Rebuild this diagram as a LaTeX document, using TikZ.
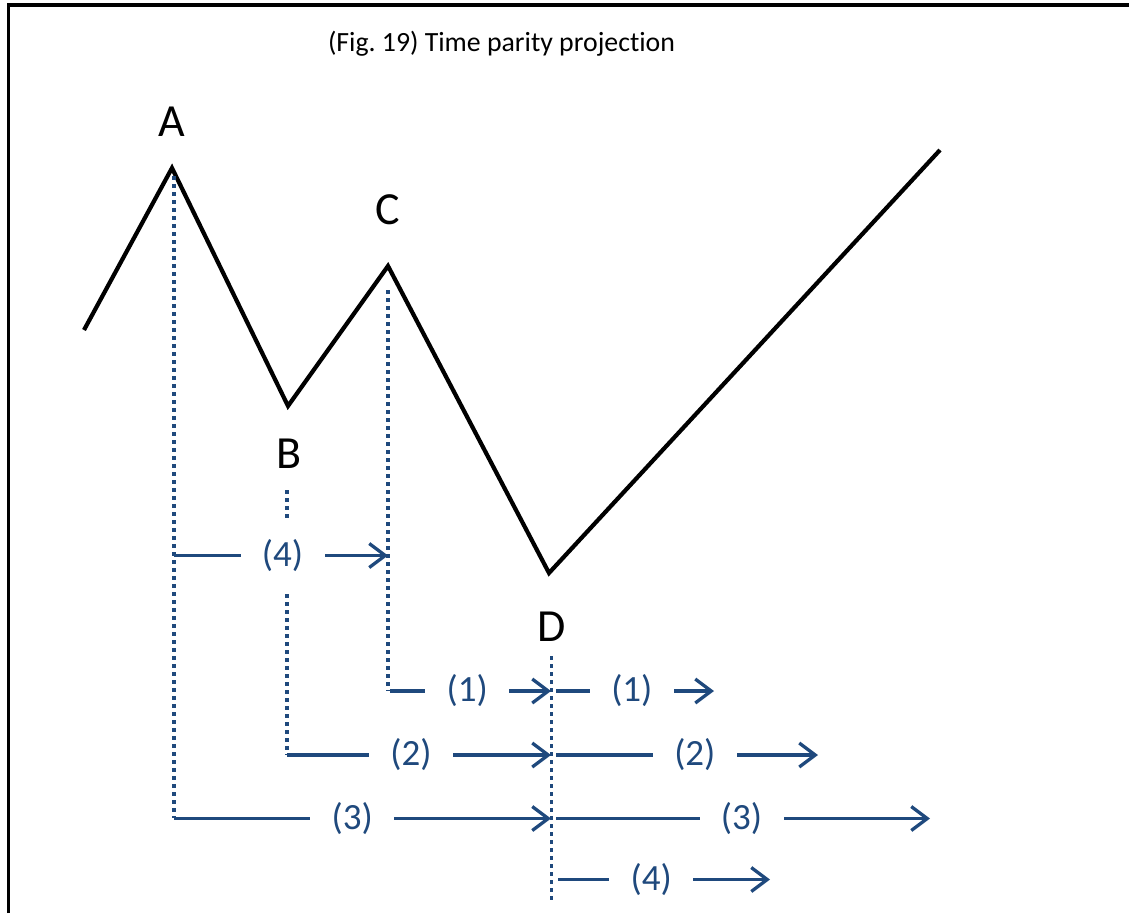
\documentclass[tikz,border=0pt]{standalone}
\usepackage{fontspec}
\setmainfont[Ligatures=NoCommon]{Carlito}
\usetikzlibrary{arrows.meta}
\definecolor{navy}{RGB}{31,73,125}
\frenchspacing
\begin{document}
\begin{tikzpicture}[x=1pt,y=-1pt,
  frame/.style={line width=3.5pt,black},
  zig/.style={line width=4.2pt,black,line join=miter},
  peak/.style={font=\fontsize{46}{50}\selectfont,inner sep=0pt},
  vdot/.style={navy,line width=3.8pt,dash pattern=on 3.6pt off 4.4pt},
  arr/.style={navy,line width=3.3pt,-{Straight Barb[length=16pt,width=24pt,line width=3.3pt]}},
  lbl/.style={fill=white,text=navy,font=\fontsize{37}{40}\selectfont,minimum width=84pt,minimum height=34pt,inner sep=0pt},
  tall/.style={minimum height=68pt}]
\useasboundingbox (0,0) rectangle (1129,913);
% frame
\draw[frame] (8.5,913) -- (8.5,5) -- (1129,5);
% title
\node[anchor=base,font=\fontsize{27.8}{32}\selectfont,inner sep=0pt] (title) at (501.5,51) {(Fig.\ 19) Time parity projection};
% zigzag
\coordinate (s) at (84,330);
\coordinate (pA) at (172,168);
\coordinate (pB) at (288,406);
\coordinate (pC) at (388,266);
\coordinate (pD) at (549,573);
\coordinate (e) at (940,150);
\draw[zig] (s) -- (pA) -- (pB) -- (pC) -- (pD) -- (e);
\node[peak] (A) at (172,122) {A};
\node[peak] (B) at (289,454) {B};
\node[peak] (C) at (388,210) {C};
\node[peak] (D) at (552,627) {D};
% dotted projections
\coordinate (a0) at (174,176);
\coordinate (a1) at (174,818);
\coordinate (b0) at (287,490);
\coordinate (b1) at (287,755);
\coordinate (c0) at (388,290);
\coordinate (c1) at (388,691);
\coordinate (d0) at (551.5,656);
\coordinate (d1) at (551.5,900);
\draw[vdot] (a0) -- (a1);
\draw[vdot] (b0) -- (b1);
\draw[vdot] (c0) -- (c1);
\draw[vdot] (d0) -- (d1);
% arrow end points
\coordinate (r4s) at (174,555.5);
\coordinate (r4e) at (388,555.5);
\coordinate (r1s) at (390,691);
\coordinate (r1m) at (551,691);
\coordinate (r1t) at (556,691);
\coordinate (r1e) at (714,691);
\coordinate (r2s) at (287,755);
\coordinate (r2m) at (551,755);
\coordinate (r2t) at (556,755);
\coordinate (r2e) at (818,755);
\coordinate (r3s) at (174,818.5);
\coordinate (r3m) at (551,818.5);
\coordinate (r3t) at (556,818.5);
\coordinate (r3e) at (930,818.5);
\coordinate (q4s) at (558,879.5);
\coordinate (q4e) at (770,879.5);
% arrows
\draw[arr] (r4s) -- node[lbl,tall,pos=0.507] (l4a) {(4)} (r4e);
\draw[arr] (r1s) -- node[lbl,pos=0.48] (l1a) {(1)} (r1m);
\draw[arr] (r1t) -- node[lbl,pos=0.48] (l1b) {(1)} (r1e);
\draw[arr] (r2s) -- node[lbl,pos=0.47] (l2a) {(2)} (r2m);
\draw[arr] (r2t) -- node[lbl,pos=0.53] (l2b) {(2)} (r2e);
\draw[arr] (r3s) -- node[lbl,pos=0.473] (l3a) {(3)} (r3m);
\draw[arr] (r3t) -- node[lbl,pos=0.496] (l3b) {(3)} (r3e);
\draw[arr] (q4s) -- node[lbl,pos=0.44] (l4b) {(4)} (q4e);
\end{tikzpicture}
\end{document}
